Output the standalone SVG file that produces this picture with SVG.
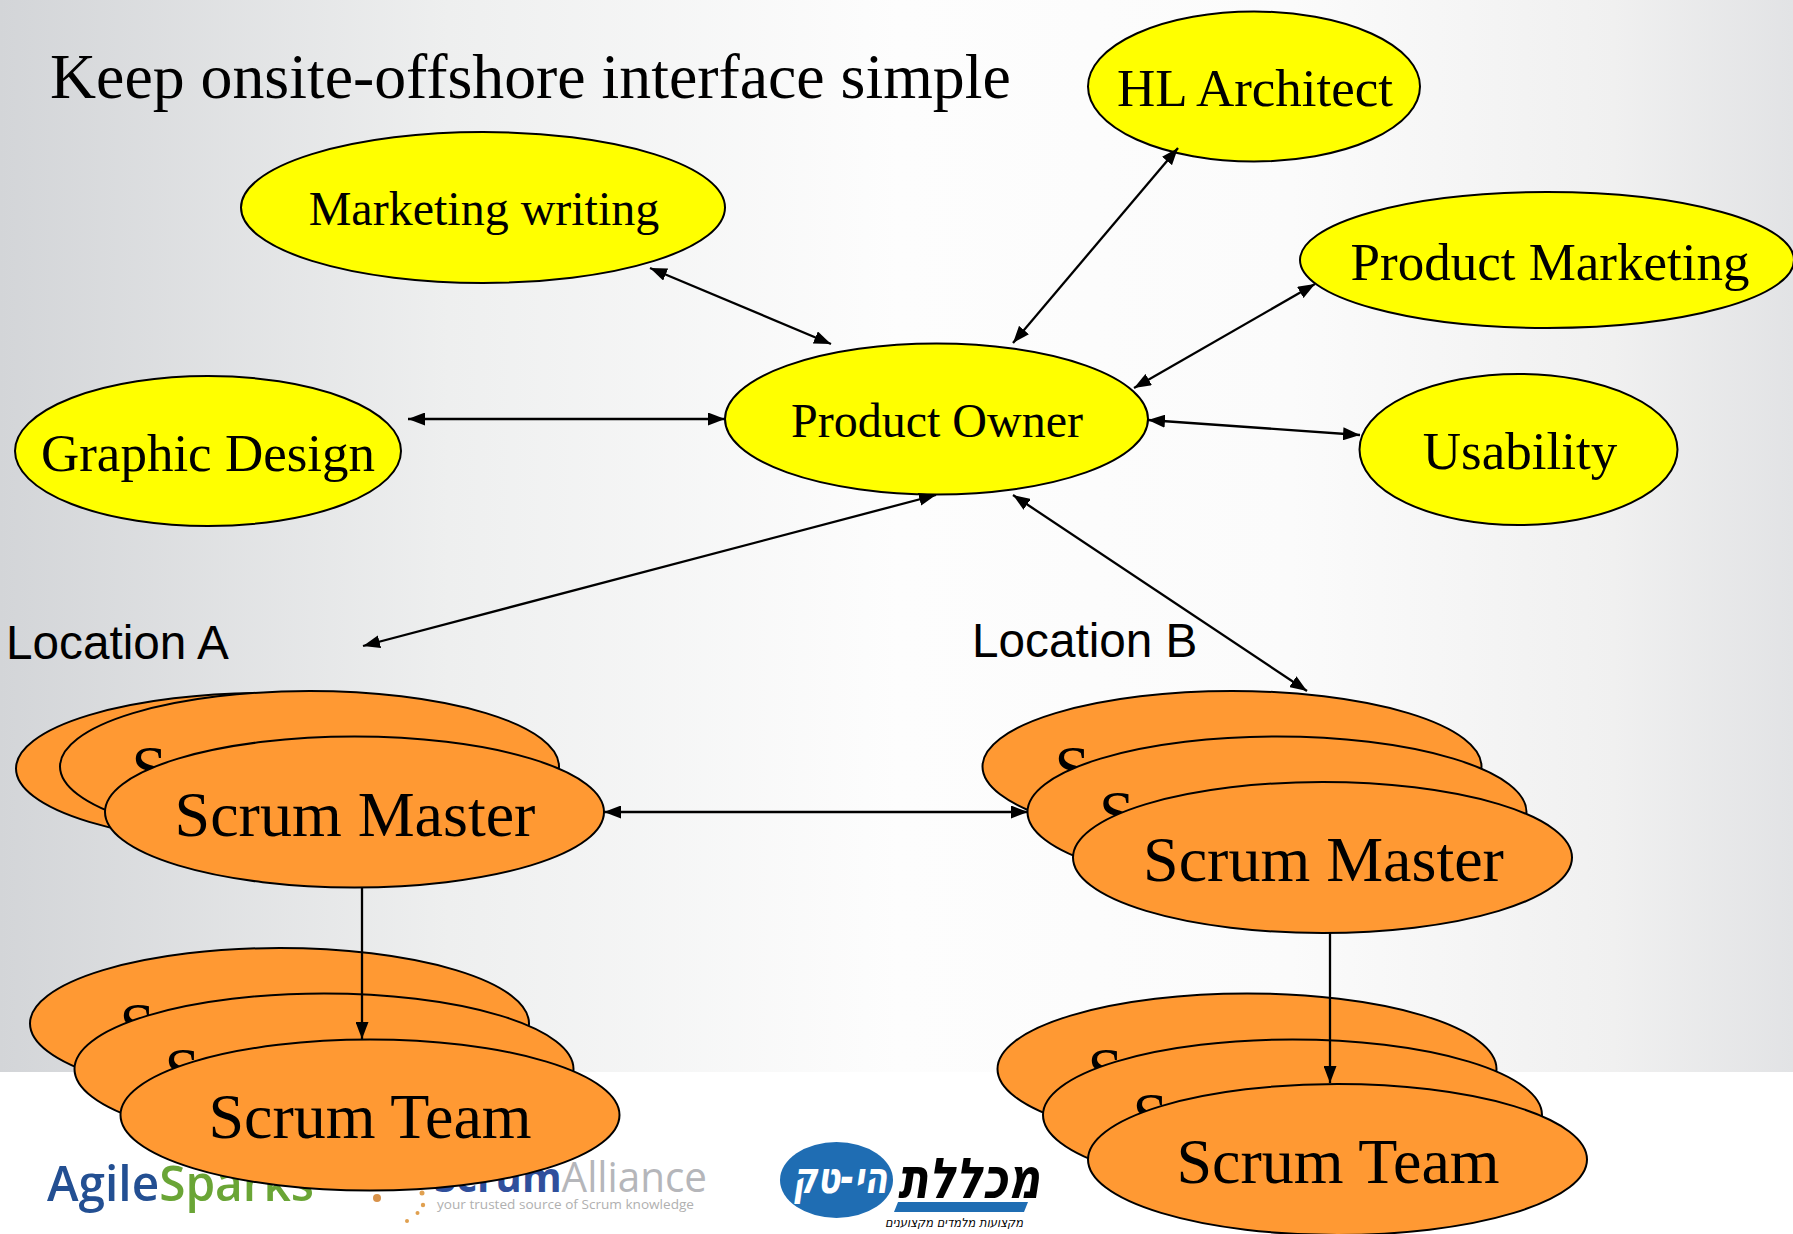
<svg xmlns="http://www.w3.org/2000/svg" width="1793" height="1234" viewBox="0 0 1793 1234">
<defs>
<linearGradient id="bg" x1="0" y1="0" x2="1" y2="0"><stop offset="0" stop-color="#d3d5d8"/><stop offset="0.25" stop-color="#eeefef"/><stop offset="0.5" stop-color="#fdfdfd"/><stop offset="0.72" stop-color="#fbfbfb"/><stop offset="0.9" stop-color="#f0f0f0"/><stop offset="1" stop-color="#e2e3e5"/></linearGradient>
<marker id="a" viewBox="0 0 10 10" refX="10" refY="5" markerWidth="17" markerHeight="13" markerUnits="userSpaceOnUse" orient="auto-start-reverse" preserveAspectRatio="none"><path d="M0 0L10 5L0 10Z" fill="#000"/></marker>
</defs>
<style>
.y{fill:#ffff00;stroke:#000;stroke-width:2}
.o{fill:#ff9933;stroke:#000;stroke-width:2}
text{font-family:"Liberation Serif",serif;fill:#000;text-anchor:middle}
.m{font-size:48px}.h{font-size:53px}.s{font-size:64px}
.l{font-size:48px;font-family:"Liberation Sans",sans-serif;text-anchor:start}
.c line{stroke:#000;stroke-width:2.3;marker-start:url(#a);marker-end:url(#a)}
.c line.e{marker-start:none}
.lg{font-family:"Open Sans","Liberation Sans",sans-serif;text-anchor:start}
.hb{font-family:"DejaVu Sans",sans-serif;font-weight:bold;font-style:italic}
</style>
<rect width="1793" height="1072" fill="url(#bg)"/>
<rect y="1072" width="1793" height="162" fill="#fff"/>
<text x="50" y="98" style="text-anchor:start;font-size:63.8px">Keep onsite-offshore interface simple</text>
<text class="l" x="6" y="659" style="font-size:47.7px">Location A</text>
<text class="l" x="972" y="657" style="font-size:47.7px">Location B</text>
<g id="logos">
<text class="lg" x="47" y="1201" font-size="49" font-weight="600" textLength="267" lengthAdjust="spacingAndGlyphs" style="fill:#234f92">Agile<tspan style="fill:#6aa536">Sparks</tspan></text>
<text class="lg" x="434" y="1192" font-size="42" textLength="273" lengthAdjust="spacingAndGlyphs" style="fill:#b5b6ba"><tspan font-weight="bold" style="fill:#2f4f9c">Scrum</tspan>Alliance</text>
<text class="lg" x="437" y="1209" font-size="13.5" textLength="257" lengthAdjust="spacingAndGlyphs" style="fill:#b0b0b0">your trusted source of Scrum knowledge</text>
<circle cx="377" cy="1198" r="4" fill="#d8924a"/><circle cx="422" cy="1193" r="2.5" fill="#e0a050"/><circle cx="423" cy="1205" r="2.2" fill="#e0a050"/><circle cx="417.5" cy="1213" r="2" fill="#e0a050"/><circle cx="407" cy="1221" r="2" fill="#e0a050"/>
<ellipse cx="836.5" cy="1180" rx="56.5" ry="38" fill="#1f6db3"/>
<text class="hb" x="840" y="1193" font-size="44" textLength="95" lengthAdjust="spacingAndGlyphs" style="fill:#fff">הי-טק</text>
<text class="hb" x="969" y="1198" font-size="56" textLength="142" lengthAdjust="spacingAndGlyphs">מכללת</text>
<polygon points="898,1202 1028,1202 1024,1212 894,1212" fill="#1f6db3"/>
<text class="hb" x="954" y="1227" font-size="12" textLength="138" lengthAdjust="spacingAndGlyphs" style="font-weight:normal">מקצועות מלמדים מקצוענים</text>
</g>
<g id="n-marketing"><ellipse class="y" cx="483" cy="207.5" rx="242" ry="75.5"/><text class="m" x="484" y="225">Marketing writing</text></g>
<g id="n-hl"><ellipse class="y" cx="1254" cy="86.5" rx="166" ry="75"/><text class="h" x="1255" y="106">HL Architect</text></g>
<g id="n-pm"><ellipse class="y" cx="1547" cy="260" rx="247" ry="68"/><text class="h" x="1550" y="280">Product Marketing</text></g>
<g id="n-gd"><ellipse class="y" cx="208" cy="451" rx="193" ry="75"/><text class="h" x="208" y="471">Graphic Design</text></g>
<g id="n-po"><ellipse class="y" cx="936.5" cy="419" rx="211.5" ry="75.5"/><text class="m" x="937" y="437">Product Owner</text></g>
<g id="n-us"><ellipse class="y" cx="1518.5" cy="449.5" rx="159" ry="75.5"/><text class="h" x="1520" y="469">Usability</text></g>
<g id="n-la1"><ellipse class="o" cx="265.5" cy="768.5" rx="249.5" ry="75.5"/><text class="s" x="267" y="790">Scrum Master</text></g>
<g id="n-la2"><ellipse class="o" cx="309.5" cy="766.5" rx="249.5" ry="75.5"/><text class="s" x="312" y="790">Scrum Master</text></g>
<g id="n-la3"><ellipse class="o" cx="354.5" cy="812" rx="249.5" ry="75.5"/><text class="s" x="355" y="836">Scrum Master</text></g>
<g id="n-lb1"><ellipse class="o" cx="1232" cy="766.5" rx="249.5" ry="75.5"/><text class="s" x="1235" y="790">Scrum Master</text></g>
<g id="n-lb2"><ellipse class="o" cx="1277" cy="812" rx="249.5" ry="75.5"/><text class="s" x="1279.5" y="835">Scrum Master</text></g>
<g id="n-lb3"><ellipse class="o" cx="1322.5" cy="857.5" rx="249.5" ry="75.5"/><text class="s" x="1323.5" y="881">Scrum Master</text></g>
<g id="n-ta1"><ellipse class="o" cx="279.5" cy="1023.5" rx="249.5" ry="75.5"/><text class="s" x="281" y="1046.5">Scrum Team</text></g>
<g id="n-ta2"><ellipse class="o" cx="324" cy="1069" rx="249.5" ry="75.5"/><text class="s" x="326" y="1092">Scrum Team</text></g>
<g id="n-ta3"><ellipse class="o" cx="370" cy="1115" rx="249.5" ry="75.5"/><text class="s" x="370" y="1138">Scrum Team</text></g>
<g id="n-tb1"><ellipse class="o" cx="1247" cy="1069" rx="249.5" ry="75.5"/><text class="s" x="1249" y="1091.5">Scrum Team</text></g>
<g id="n-tb2"><ellipse class="o" cx="1292.5" cy="1115" rx="249.5" ry="75.5"/><text class="s" x="1294" y="1137">Scrum Team</text></g>
<g id="n-tb3"><ellipse class="o" cx="1337.5" cy="1159.5" rx="249.5" ry="75.5"/><text class="s" x="1338" y="1183">Scrum Team</text></g>
<g id="connectors" class="c">
<line x1="650" y1="268" x2="831" y2="344"/>
<line x1="1178" y1="148" x2="1013" y2="343"/>
<line x1="1315" y1="284" x2="1134" y2="388"/>
<line x1="408" y1="419" x2="725" y2="419"/>
<line x1="1148" y1="420" x2="1360" y2="435"/>
<line x1="936" y1="495" x2="363" y2="646"/>
<line x1="1013" y1="495" x2="1307" y2="691"/>
<line x1="604" y1="812" x2="1028" y2="812"/>
<line class="e" x1="362" y1="887" x2="362" y2="1039"/>
<line class="e" x1="1330" y1="933" x2="1330" y2="1083"/>
</g>
</svg>
